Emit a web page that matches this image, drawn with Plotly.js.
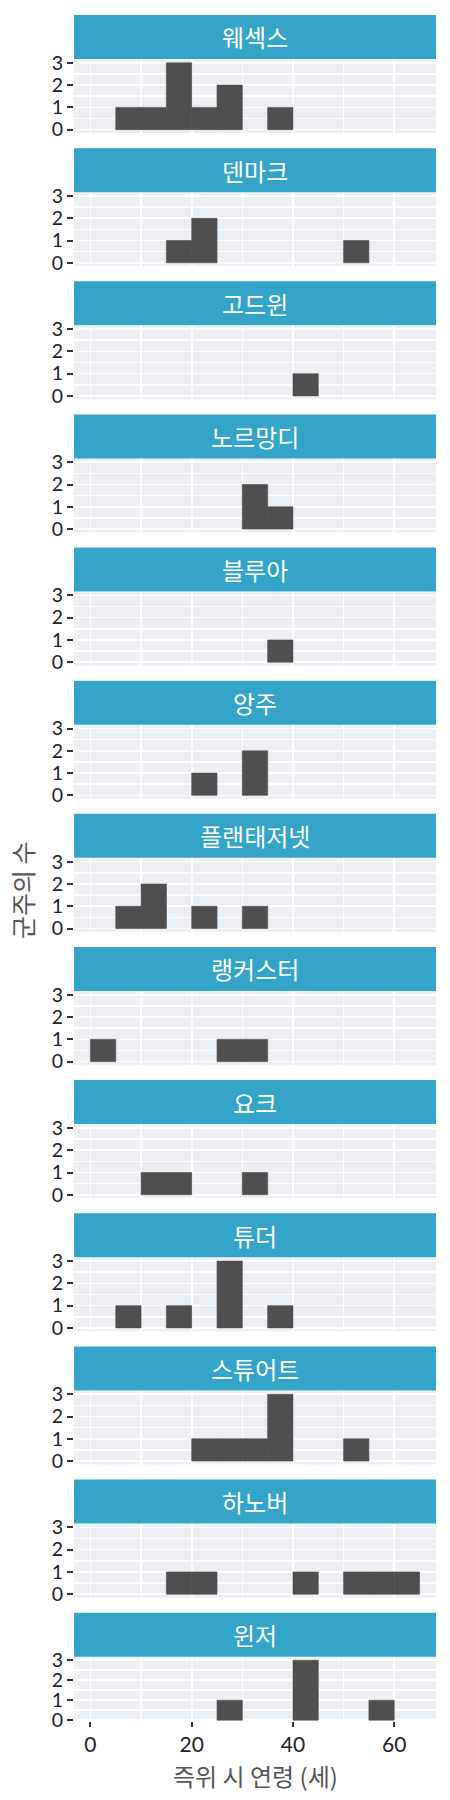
<!DOCTYPE html>
<html>
<head>
<meta charset="utf-8">
<script src="https://cdn.plot.ly/plotly-3.0.1.min.js"></script>
<style>
  html, body { margin: 0; padding: 0; background: #fff; }
  #chart { width: 450px; height: 1800px; }
</style>
</head>
<body>
<div id="chart"></div>
<script>
// bins of 5 years: 0-5, 5-10, ... 60-65
const binStarts = [0, 5, 10, 15, 20, 25, 30, 35, 40, 45, 50, 55, 60];
const houses = ['웨섹스', '덴마크', '고드윈', '노르망디', '블루아', '앙주', '플랜태저넷',
  '랭커스터', '요크', '튜더', '스튜어트', '하노버', '윈저'];

const wessex      = [0, 1, 1, 3, 1, 2, 0, 1, 0, 0, 0, 0, 0];
const denmark     = [0, 0, 0, 1, 2, 0, 0, 0, 0, 0, 1, 0, 0];
const godwin      = [0, 0, 0, 0, 0, 0, 0, 0, 1, 0, 0, 0, 0];
const normandy    = [0, 0, 0, 0, 0, 0, 2, 1, 0, 0, 0, 0, 0];
const blois       = [0, 0, 0, 0, 0, 0, 0, 1, 0, 0, 0, 0, 0];
const anjou       = [0, 0, 0, 0, 1, 0, 2, 0, 0, 0, 0, 0, 0];
const plantagenet = [0, 1, 2, 0, 1, 0, 1, 0, 0, 0, 0, 0, 0];
const lancaster   = [1, 0, 0, 0, 0, 1, 1, 0, 0, 0, 0, 0, 0];
const york        = [0, 0, 1, 1, 0, 0, 1, 0, 0, 0, 0, 0, 0];
const tudor       = [0, 1, 0, 1, 0, 3, 0, 1, 0, 0, 0, 0, 0];
const stuart      = [0, 0, 0, 0, 1, 1, 1, 3, 0, 0, 1, 0, 0];
const hanover     = [0, 0, 0, 1, 1, 0, 0, 0, 1, 0, 1, 1, 1];
const windsor     = [0, 0, 0, 0, 0, 1, 0, 0, 3, 0, 0, 1, 0];

const xTicks = [0, 20, 40, 60];
const yTicks = [0, 1, 2, 3];

const allCounts = [wessex, denmark, godwin, normandy, blois, anjou, plantagenet,
  lancaster, york, tudor, stuart, hanover, windsor];

// geometry (pixels)
const W = 450, H = 1800;
const left = 74, right = 436;
const firstTop = 15, step = 133.14, stripH = 44;
const panelH = 73.5, lastPanelH = 64;
const binW = 5;

const font = "Lato, 'Noto Sans CJK KR', sans-serif";
const krFont = "'Noto Sans CJK KR', 'Noto Sans', sans-serif";

const traces = [];
const layout = {
  width: W, height: H,
  margin: { l: 0, r: 0, t: 0, b: 0 },
  paper_bgcolor: '#fff',
  plot_bgcolor: '#eaf0f4',
  showlegend: false,
  bargap: 0,
  font: { family: font, color: '#222' },
  shapes: [],
  annotations: []
};

houses.forEach((name, i) => {
  const n = i + 1;
  const last = n === houses.length;
  const sTop = firstTop + i * step;
  const pTop = sTop + stripH + 0.5;
  const pBot = pTop + (last ? lastPanelH : panelH);
  const xs = binStarts.map(b => b + binW / 2);
  const ys = allCounts[i].map(v => v === 0 ? null : v);

  traces.push({
    type: 'bar',
    x: xs, y: ys, width: binW,
    xaxis: 'x' + n, yaxis: 'y' + n,
    marker: { color: '#4f4f4f', line: { color: '#4a4a4a', width: 0.6 } },
    hoverinfo: 'x+y'
  });

  layout['xaxis' + n] = {
    domain: [left / W, right / W],
    anchor: 'y' + n,
    range: [-3.25, 68.25],
    tickvals: xTicks,
    showticklabels: last,
    ticks: last ? 'outside' : '',
    ticklen: 5, tickwidth: 2, tickcolor: '#333',
    tickfont: { size: 21, color: '#222', family: font },
    showgrid: true, gridcolor: '#fff', gridwidth: 1.6,
    minor: { dtick: 10, tick0: 0, showgrid: true, gridcolor: '#fff', gridwidth: 1.6, ticks: '' },
    zeroline: false, showline: false, fixedrange: true
  };
  if (n > 1) layout['xaxis' + n].matches = 'x';

  layout['yaxis' + n] = {
    domain: [1 - pBot / H, 1 - pTop / H],
    anchor: 'x' + n,
    // bottom panel sits tight on the x axis
    range: last ? [-0.05, 3.15] : [-0.15, 3.15],
    tickvals: yTicks,
    ticks: 'outside', ticklen: 6, tickwidth: 2, tickcolor: '#333',
    tickfont: { size: 19.5, color: '#222', family: font },
    showgrid: true, gridcolor: '#fff', gridwidth: 1.6,
    minor: { dtick: 0.5, tick0: 0, showgrid: true, gridcolor: '#fff', gridwidth: 1.6, ticks: '' },
    zeroline: false, showline: false, fixedrange: true
  };

  // facet strip
  layout.shapes.push({
    type: 'rect', xref: 'paper', yref: 'paper', layer: 'above',
    x0: left / W, x1: right / W,
    y0: 1 - (sTop + stripH) / H, y1: 1 - sTop / H,
    fillcolor: '#34a4c8', line: { width: 0 }
  });
  layout.annotations.push({
    xref: 'paper', yref: 'paper',
    x: (left + right) / 2 / W, y: 1 - (sTop + stripH / 2) / H,
    text: name, showarrow: false,
    xanchor: 'center', yanchor: 'middle',
    font: { family: krFont, size: 24, color: '#fff' }
  });
});

// axis titles
layout.annotations.push({
  xref: 'paper', yref: 'paper',
  x: 22 / W, y: 1 - 890 / H,
  text: '군주의 수', textangle: -90, showarrow: false,
  xanchor: 'center', yanchor: 'middle',
  font: { family: krFont, size: 25, color: '#555' }
});
layout.annotations.push({
  xref: 'paper', yref: 'paper',
  x: (left + right) / 2 / W, y: 1 - 1775 / H,
  text: '즉위 시 연령 (세)', showarrow: false,
  xanchor: 'center', yanchor: 'middle',
  font: { family: krFont, size: 24, color: '#555' }
});

Plotly.newPlot('chart', traces, layout, { displayModeBar: false, staticPlot: true });
</script>
</body>
</html>
